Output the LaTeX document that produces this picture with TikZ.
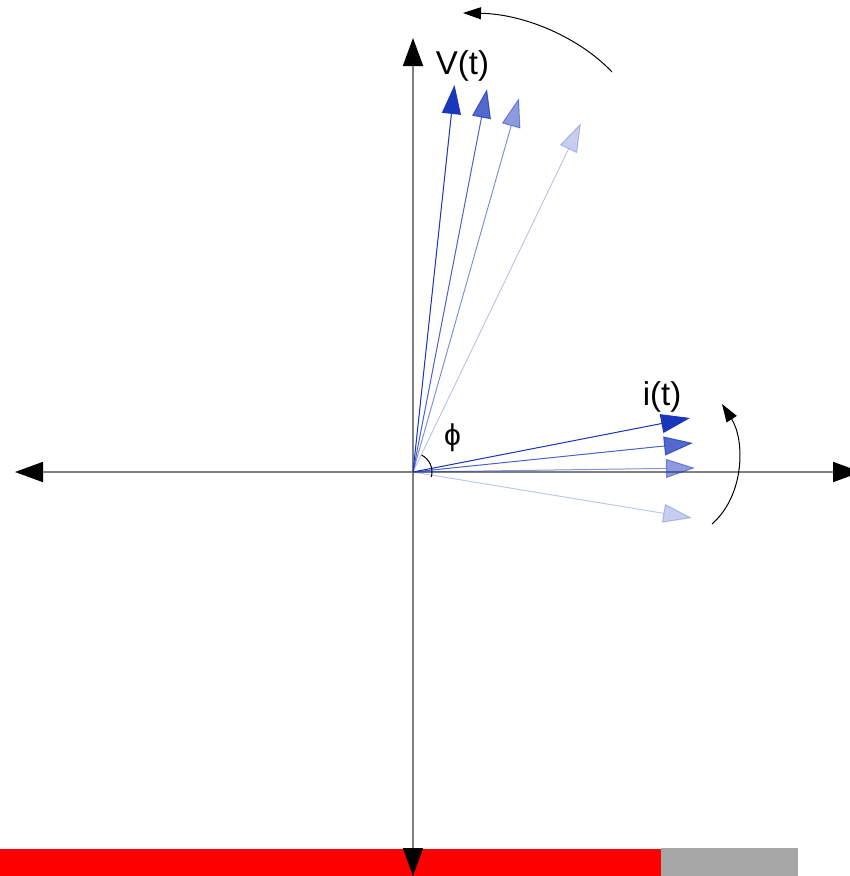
\documentclass[tikz,border=0pt]{standalone}
\usepackage{fontspec}
\setmainfont{Liberation Sans}
\usetikzlibrary{arrows.meta}
\definecolor{vblue}{RGB}{26,55,187}
\definecolor{axisgray}{RGB}{128,128,128}
\definecolor{bargray}{RGB}{166,166,166}
\definecolor{barred}{RGB}{255,0,0}
\begin{document}
\begin{tikzpicture}[x=1pt,y=-1pt,
  axisline/.style={draw=axisgray,line width=1.8pt},
  axistip/.style={-{Triangle[length=28pt,width=20pt,black]}},
  vec/.style={line width=1pt,draw=vblue,fill=vblue,-{Triangle[length=29pt,width=19pt]}},
  turn/.style={line width=1pt,draw=black,-{Triangle[length=18pt,width=12pt]}},
  lbl/.style={inner sep=0pt,font=\fontsize{33}{40}\selectfont},
  philbl/.style={inner sep=0pt,font=\fontsize{30}{36}\selectfont}]
\useasboundingbox (0,0) rectangle (850,876);
\clip (0,0) rectangle (850,876);
% bottom bar
\fill[barred] (0,849) rectangle (661,876);
\fill[bargray] (661,848) rectangle (798,876);
% coordinates
\coordinate (O) at (413,472);
\coordinate (L) at (15,472);
\coordinate (R) at (861,472);
\coordinate (T) at (413,38);
\coordinate (B) at (413,876);
% axes
\draw[axisline,axistip] (O) -- (L);
\draw[axisline,axistip] (O) -- (R);
\draw[axisline,axistip] (O) -- (T);
\draw[axisline,axistip] (O) -- (B);
% V vectors
\coordinate (V1) at (454.5,85);
\coordinate (V2) at (487,89);
\coordinate (V3) at (519,98);
\coordinate (V4) at (581,123);
\draw[vec] (O) -- (V1);
\draw[vec,opacity=0.75] (O) -- (V2);
\draw[vec,opacity=0.5] (O) -- (V3);
\draw[vec,opacity=0.25] (O) -- (V4);
% i vectors
\coordinate (I1) at (690,418);
\coordinate (I2) at (693,443);
\coordinate (I3) at (695,468);
\coordinate (I4) at (692,518);
\draw[vec] (O) -- (I1);
\draw[vec,opacity=0.75] (O) -- (I2);
\draw[vec,opacity=0.5] (O) -- (I3);
\draw[vec,opacity=0.25] (O) -- (I4);
% rotation arrows
\coordinate (A1s) at (612,72);
\coordinate (A1e) at (463,13);
\draw[turn] (A1s) .. controls (580,38) and (525,14) .. (A1e);
\coordinate (A2s) at (712,524);
\coordinate (A2e) at (722,404);
\draw[turn] (A2s) .. controls (745,495) and (745,440) .. (A2e);
% angle arc
\draw[line width=1pt,black] ([shift={(O)}]-63:19) arc (-63:15:19);
% labels
\node[lbl] (Vlab) at (462.5,66) {V(t)};
\node[lbl] (ilab) at (662,397) {i(t)};
\node[philbl] (philab) at (452.5,437.5) {ϕ};
\end{tikzpicture}
\end{document}
